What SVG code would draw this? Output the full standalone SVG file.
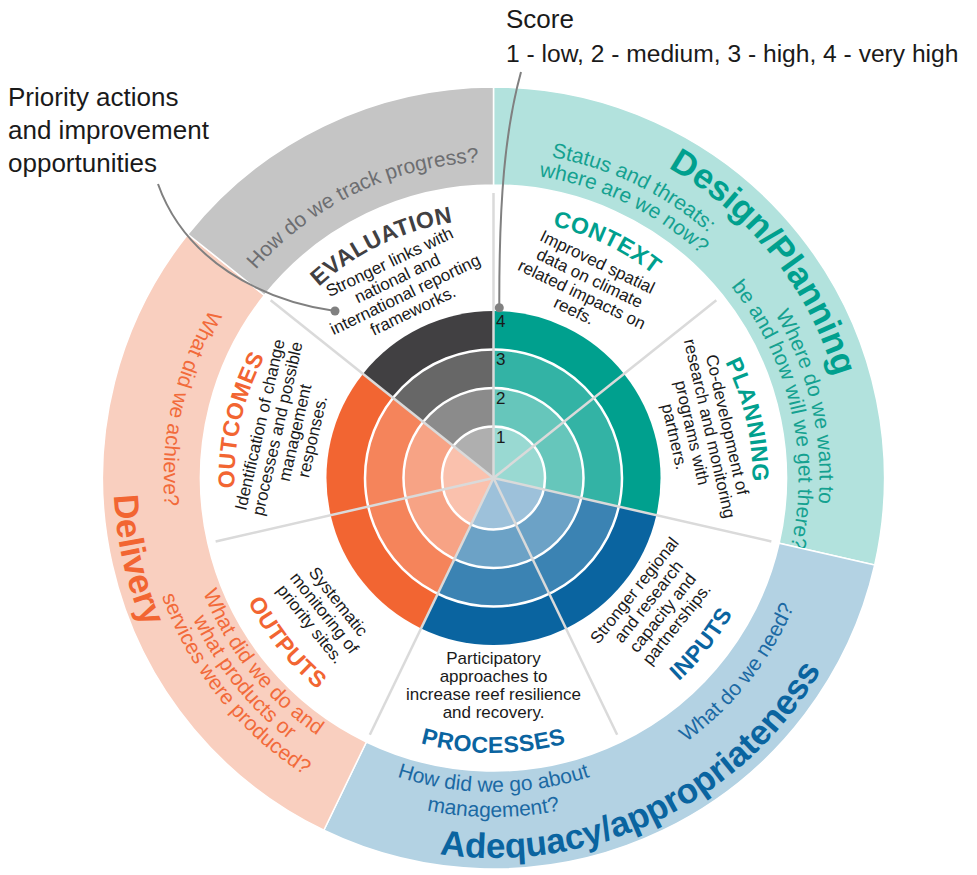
<svg xmlns="http://www.w3.org/2000/svg" width="977" height="875" viewBox="0 0 977 875">
<defs>
<style>
.band{stroke:#fff;stroke-width:1.5}
.body{font-family:"Liberation Sans",Arial,sans-serif;font-size:17px;fill:#1a1a1a;text-anchor:middle}
.title{font-family:"Liberation Sans",Arial,sans-serif;font-size:23px;font-weight:bold;text-anchor:middle;letter-spacing:0.5px}
.sub{font-family:"Liberation Sans",Arial,sans-serif;font-size:21px;text-anchor:middle}
.big{font-family:"Liberation Sans",Arial,sans-serif;font-size:35px;font-weight:bold;text-anchor:middle}
.ann{font-family:"Liberation Sans",Arial,sans-serif;font-size:26px;fill:#1a1a1a}
.num{font-family:"Liberation Sans",Arial,sans-serif;font-size:17px;fill:#1a1a1a}
.div{stroke:#dadada;stroke-width:2.5}
.ring{fill:none;stroke:#fff;stroke-width:2.5}
.lead{fill:none;stroke:#808080;stroke-width:2}
.dot{fill:#808080}
.tl{fill:#00a08e}.bl{fill:#0a64a0}.or{fill:#f26532}.gr{fill:#414042}
.tls{fill:#14a190}.bls{fill:#1b69a3}.ors{fill:#f26a3a}.grs{fill:#6d6e71}
</style>
<path id="w" d="M0 0L-0.43388-0.90097A1 1 0 0 1 0.43388-0.90097Z"/>
<path id="o259" d="M235.49 455.43A259 259 0 0 1 751.51 455.43"/>
<path id="o356" d="M138.86 446.97A356 356 0 0 1 848.14 446.97"/>
<path id="o326" d="M168.74 449.59A326 326 0 0 1 818.26 449.59"/>
<path id="o305" d="M189.66 451.42A305 305 0 0 1 797.34 451.42"/>
<path id="o316" d="M178.70 450.46A316 316 0 0 1 808.30 450.46"/>
<path id="i275" d="M219.55 501.97A275 275 0 0 0 767.45 501.97"/>
<path id="i380" d="M114.95 511.12A380 380 0 0 0 872.05 511.12"/>
<path id="i314" d="M180.70 505.37A314 314 0 0 0 806.30 505.37"/>
<path id="i339" d="M155.79 507.55A339 339 0 0 0 831.21 507.55"/>
<path id="i327" d="M167.75 506.50A327 327 0 0 0 819.25 506.50"/>
<path id="i312" d="M182.69 505.19A312 312 0 0 0 804.31 505.19"/>
<path id="i332" d="M162.76 506.94A332 332 0 0 0 824.24 506.94"/>
<path id="i352" d="M142.84 508.68A352 352 0 0 0 844.16 508.68"/>
<path id="i330" d="M164.76 506.76A330 330 0 0 0 822.24 506.76"/>
</defs>
<rect width="977" height="875" fill="#fff"/>

<g id="band-design">
<path class="band" fill="#b2e2dd" d="M493.5 87A391 391 0 0 1 874.70 565.01L779.15 543.20A293 293 0 0 0 493.5 185Z"/>
<text class="big tl" transform="rotate(51.429 493.5 478)"><textPath href="#o356" startOffset="50%">Design/Planning</textPath></text>
<text class="sub tls" transform="rotate(25.714 493.5 478)"><textPath href="#o326" startOffset="50%">Status and threats:</textPath></text>
<text class="sub tls" transform="rotate(25.714 493.5 478)"><textPath href="#o305" startOffset="50%">where are we now?</textPath></text>
<text class="sub tls" transform="rotate(77.143 493.5 478)"><textPath href="#o326" startOffset="50%">Where do we want to</textPath></text>
<text class="sub tls" transform="rotate(77.143 493.5 478)"><textPath href="#o305" startOffset="50%">be and how will we get there?</textPath></text>
</g>

<g id="band-adequacy">
<path class="band" fill="#b3d2e3" d="M874.70 565.01A391 391 0 0 1 323.85 830.28L366.37 741.98A293 293 0 0 0 779.15 543.20Z"/>
<text class="big bl" transform="rotate(-25.714 493.5 478)"><textPath href="#i380" startOffset="50%">Adequacy/appropriateness</textPath></text>
<text class="sub bls" transform="rotate(-51.429 493.5 478)"><textPath href="#i327" startOffset="50%">What do we need?</textPath></text>
<text class="sub bls"><textPath href="#i314" startOffset="50%">How did we go about</textPath></text>
<text class="sub bls"><textPath href="#i339" startOffset="50%">management?</textPath></text>
</g>

<g id="band-delivery">
<path class="band" fill="#f9cfbf" d="M323.85 830.28A391 391 0 0 1 187.80 234.22L264.42 295.32A293 293 0 0 0 366.37 741.98Z"/>
<text class="big or" transform="rotate(77.143 493.5 478)"><textPath href="#i380" startOffset="50%">Delivery</textPath></text>
<text class="sub ors" transform="rotate(51.429 493.5 478)"><textPath href="#i312" startOffset="50%">What did we do and</textPath></text>
<text class="sub ors" transform="rotate(51.429 493.5 478)"><textPath href="#i332" startOffset="50%">what products or</textPath></text>
<text class="sub ors" transform="rotate(51.429 493.5 478)"><textPath href="#i352" startOffset="50%">services were produced?</textPath></text>
<text class="sub ors" transform="rotate(102.857 493.5 478)"><textPath href="#i330" startOffset="50%">What did we achieve?</textPath></text>
</g>

<g id="band-evaluation">
<path class="band" fill="#c5c5c5" d="M187.80 234.22A391 391 0 0 1 493.5 87L493.5 185A293 293 0 0 0 264.42 295.32Z"/>
<text class="sub grs" transform="rotate(-25.714 493.5 478)"><textPath href="#o316" startOffset="50%">How do we track progress?</textPath></text>
</g>

<g id="sector-context">
<use href="#w" transform="translate(493.5 478) rotate(25.714) scale(167)" fill="#00a08e"/>
<use href="#w" transform="translate(493.5 478) rotate(25.714) scale(128.5)" fill="#33b3a5"/>
<use href="#w" transform="translate(493.5 478) rotate(25.714) scale(90)" fill="#66c6bb"/>
<use href="#w" transform="translate(493.5 478) rotate(25.714) scale(51.5)" fill="#99d9d2"/>
<text class="title tl" transform="rotate(25.714 493.5 478)"><textPath href="#o259" startOffset="50%">CONTEXT</textPath></text>
<g transform="rotate(25.714 493.5 478)" class="body">
<text x="493.5" y="244">Improved spatial</text>
<text x="493.5" y="262">data on climate</text>
<text x="493.5" y="280">related impacts on</text>
<text x="493.5" y="298">reefs.</text>
</g>
</g>

<g id="sector-planning">
<use href="#w" transform="translate(493.5 478) rotate(77.143) scale(167)" fill="#00a08e"/>
<use href="#w" transform="translate(493.5 478) rotate(77.143) scale(128.5)" fill="#33b3a5"/>
<use href="#w" transform="translate(493.5 478) rotate(77.143) scale(90)" fill="#66c6bb"/>
<use href="#w" transform="translate(493.5 478) rotate(77.143) scale(51.5)" fill="#99d9d2"/>
<text class="title tl" transform="rotate(77.143 493.5 478)"><textPath href="#o259" startOffset="50%">PLANNING</textPath></text>
<g transform="rotate(77.143 493.5 478)" class="body">
<text x="493.5" y="244">Co-development of</text>
<text x="493.5" y="262">research and monitoring</text>
<text x="493.5" y="280">programs with</text>
<text x="493.5" y="298">partners.</text>
</g>
</g>

<g id="sector-inputs">
<use href="#w" transform="translate(493.5 478) rotate(128.571) scale(167)" fill="#0a64a0"/>
<use href="#w" transform="translate(493.5 478) rotate(128.571) scale(128.5)" fill="#3b83b3"/>
<use href="#w" transform="translate(493.5 478) rotate(128.571) scale(90)" fill="#6ca2c6"/>
<use href="#w" transform="translate(493.5 478) rotate(128.571) scale(51.5)" fill="#9dc1da"/>
<text class="title bl" transform="rotate(-51.429 493.5 478)"><textPath href="#i275" startOffset="50%">INPUTS</textPath></text>
<g transform="rotate(-51.429 493.5 478)" class="body">
<text x="493.5" y="664">Stronger regional</text>
<text x="493.5" y="682">and research</text>
<text x="493.5" y="700">capacity and</text>
<text x="493.5" y="718">partnerships.</text>
</g>
</g>

<g id="sector-processes">
<use href="#w" transform="translate(493.5 478) rotate(180) scale(167)" fill="#0a64a0"/>
<use href="#w" transform="translate(493.5 478) rotate(180) scale(128.5)" fill="#3b83b3"/>
<use href="#w" transform="translate(493.5 478) rotate(180) scale(90)" fill="#6ca2c6"/>
<use href="#w" transform="translate(493.5 478) rotate(180) scale(51.5)" fill="#9dc1da"/>
<text class="title bl"><textPath href="#i275" startOffset="50%">PROCESSES</textPath></text>
<g class="body">
<text x="493.5" y="664">Participatory</text>
<text x="493.5" y="682">approaches to</text>
<text x="493.5" y="700">increase reef resilience</text>
<text x="493.5" y="718">and recovery.</text>
</g>
</g>

<g id="sector-outputs">
<use href="#w" transform="translate(493.5 478) rotate(231.429) scale(167)" fill="#f26532"/>
<use href="#w" transform="translate(493.5 478) rotate(231.429) scale(128.5)" fill="#f5845b"/>
<use href="#w" transform="translate(493.5 478) rotate(231.429) scale(90)" fill="#f7a385"/>
<use href="#w" transform="translate(493.5 478) rotate(231.429) scale(51.5)" fill="#fac1ad"/>
<text class="title or" transform="rotate(51.429 493.5 478)"><textPath href="#i275" startOffset="50%">OUTPUTS</textPath></text>
<g transform="rotate(51.429 493.5 478)" class="body">
<text x="493.5" y="682">Systematic</text>
<text x="493.5" y="700">monitoring of</text>
<text x="493.5" y="718">priority sites.</text>
</g>
</g>

<g id="sector-outcomes">
<use href="#w" transform="translate(493.5 478) rotate(282.857) scale(167)" fill="#f26532"/>
<use href="#w" transform="translate(493.5 478) rotate(282.857) scale(128.5)" fill="#f5845b"/>
<use href="#w" transform="translate(493.5 478) rotate(282.857) scale(90)" fill="#f7a385"/>
<use href="#w" transform="translate(493.5 478) rotate(282.857) scale(51.5)" fill="#fac1ad"/>
<text class="title or" transform="rotate(-77.143 493.5 478)"><textPath href="#o259" startOffset="50%">OUTCOMES</textPath></text>
<g transform="rotate(-77.143 493.5 478)" class="body">
<text x="493.5" y="244">Identification of change</text>
<text x="493.5" y="262">processes and possible</text>
<text x="493.5" y="280">management</text>
<text x="493.5" y="298">responses.</text>
</g>
</g>

<g id="sector-evaluation">
<use href="#w" transform="translate(493.5 478) rotate(334.286) scale(167)" fill="#414042"/>
<use href="#w" transform="translate(493.5 478) rotate(334.286) scale(128.5)" fill="#676767"/>
<use href="#w" transform="translate(493.5 478) rotate(334.286) scale(90)" fill="#8b8b8b"/>
<use href="#w" transform="translate(493.5 478) rotate(334.286) scale(51.5)" fill="#afafaf"/>
<text class="title gr" transform="rotate(-25.714 493.5 478)"><textPath href="#o259" startOffset="50%">EVALUATION</textPath></text>
<g transform="rotate(-25.714 493.5 478)" class="body">
<text x="493.5" y="244">Stronger links with</text>
<text x="493.5" y="262">national and</text>
<text x="493.5" y="280">international reporting</text>
<text x="493.5" y="298">frameworks.</text>
</g>
</g>

<g id="score-rings">
<circle class="ring" cx="493.5" cy="478" r="51.5"/>
<circle class="ring" cx="493.5" cy="478" r="90"/>
<circle class="ring" cx="493.5" cy="478" r="128.5"/>
</g>

<g id="dividers">
<line class="div" x1="493.5" y1="478" x2="493.5" y2="193"/>
<line class="div" x1="493.5" y1="478" x2="716.32" y2="300.31"/>
<line class="div" x1="493.5" y1="478" x2="771.36" y2="541.42"/>
<line class="div" x1="493.5" y1="478" x2="617.16" y2="734.78"/>
<line class="div" x1="493.5" y1="478" x2="369.84" y2="734.78"/>
<line class="div" x1="493.5" y1="478" x2="215.64" y2="541.42"/>
<line class="div" x1="493.5" y1="478" x2="270.68" y2="300.31"/>
</g>

<g id="score-scale">
<text class="num" x="496" y="327">4</text>
<text class="num" x="496" y="365">3</text>
<text class="num" x="496" y="404">2</text>
<text class="num" x="496" y="443">1</text>
</g>

<g id="annotations">
<text class="ann" x="506" y="28">Score</text>
<text class="ann" x="506" y="62" style="font-size:24.6px">1 - low, 2 - medium, 3 - high, 4 - very high</text>
<text class="ann" x="8" y="106">Priority actions</text>
<text class="ann" x="8" y="139">and improvement</text>
<text class="ann" x="8" y="172">opportunities</text>
</g>

<g id="connectors">
<path class="lead" d="M521 72C505 130 499 200 499.3 307.7"/>
<circle class="dot" cx="499.3" cy="307.7" r="4.5"/>
<path class="lead" d="M158 184C185 260 260 300 335 311"/>
<circle class="dot" cx="335" cy="311" r="4.5"/>
</g>
</svg>
